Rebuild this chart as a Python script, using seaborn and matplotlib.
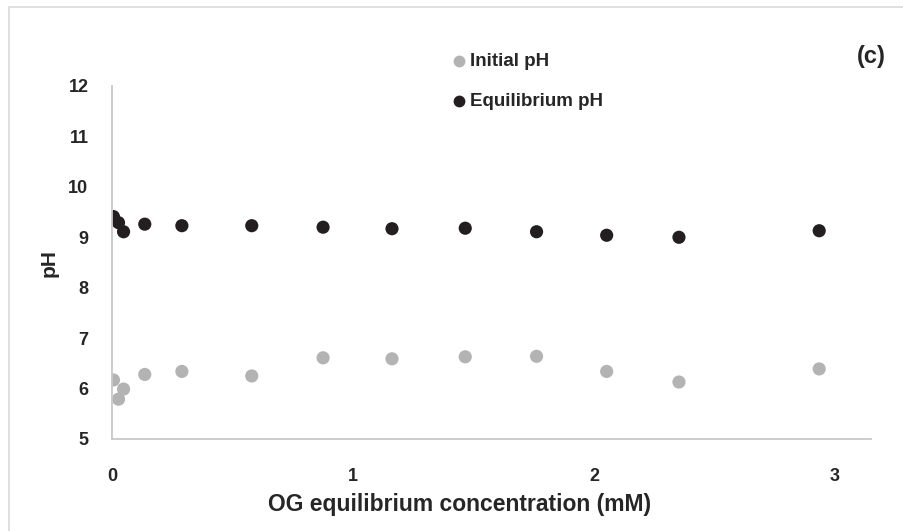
import matplotlib
matplotlib.use("Agg")
import matplotlib.pyplot as plt
import seaborn as sns
import pandas as pd
from matplotlib.patches import Rectangle
from matplotlib.lines import Line2D

# valores
og_conc = [0.006, 0.027, 0.048, 0.136, 0.29, 0.58, 0.876, 1.162, 1.466, 1.762, 2.053, 2.353, 2.935]
initial_ph = [6.17, 5.79, 5.99, 6.28, 6.34, 6.25, 6.61, 6.59, 6.63, 6.64, 6.34, 6.13, 6.39]
equilibrium_ph = [9.41, 9.29, 9.11, 9.26, 9.23, 9.23, 9.20, 9.17, 9.18, 9.11, 9.04, 9.00, 9.13]

df = pd.DataFrame({
    "conc": og_conc * 2,
    "pH": initial_ph + equilibrium_ph,
    "serie": ["Initial pH"] * len(og_conc) + ["Equilibrium pH"] * len(og_conc),
})

sns.set_style("white")
plt.rcParams["font.family"] = ["Liberation Sans", "DejaVu Sans"]
texto = "#262626"

W, H = 904, 531
fig = plt.figure(figsize=(W / 100, H / 100), dpi=100)
ax = fig.add_axes([112 / W, 1 - 439 / H, (871 - 112) / W, (439 - 86) / H])

sns.scatterplot(data=df, x="conc", y="pH", hue="serie",
                palette={"Initial pH": "#b3b3b3", "Equilibrium pH": "#231f20"},
                s=90, linewidth=0, ax=ax, legend=False)

ax.set_xlim(0, 3.15)
ax.set_ylim(5, 12)
ax.set_xticks([0, 1, 2, 3])
ax.set_yticks(range(5, 13))
ax.tick_params(axis="y", length=0, labelsize=13, pad=17)
ax.tick_params(axis="x", length=0, labelsize=13, pad=21)
for lbl in ax.get_xticklabels() + ax.get_yticklabels():
    lbl.set_fontweight("bold")
    lbl.set_color(texto)

for side in ["top", "right"]:
    ax.spines[side].set_visible(False)
for side in ["left", "bottom"]:
    ax.spines[side].set_color("#c8c8c8")
    ax.spines[side].set_linewidth(1.3)

ax.set_xlabel("OG equilibrium concentration (mM)", fontsize=16.5, fontweight="bold", color=texto)
ax.xaxis.label.set_va("center")
ax.xaxis.set_label_coords((460 - 112) / (871 - 112), (439 - 505) / (439 - 86))
ax.set_ylabel("pH", fontsize=15, fontweight="bold", color=texto)
ax.yaxis.label.set_va("center")
ax.yaxis.label.set_ha("center")
ax.yaxis.set_label_coords((49 - 112) / (871 - 112), (439 - 263) / (439 - 86))

# leyenda a mano en coordenadas de la figura
for ypix, col, txt in [(61, "#b3b3b3", "Initial pH"), (101, "#231f20", "Equilibrium pH")]:
    fig.add_artist(Line2D([459 / W], [1 - ypix / H], marker="o", markersize=8.5, color=col,
                          markeredgewidth=0, linestyle="none", transform=fig.transFigure))
    fig.text(470 / W, 1 - ypix / H, txt, fontsize=13.5, fontweight="bold", color=texto, va="center")

fig.text(871 / W, 1 - 56 / H, "(c)", fontsize=17, fontweight="bold", color=texto, ha="center", va="center")

# borde del grafico
fig.add_artist(Rectangle((9 / W, -0.05), 1.05, 1 - 7 / H + 0.05, transform=fig.transFigure,
                         fill=False, edgecolor="#d9d9d9", linewidth=1.2))

fig.savefig("out.png", dpi=100)
